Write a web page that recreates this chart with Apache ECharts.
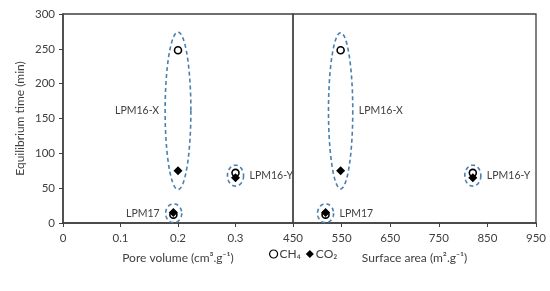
<!DOCTYPE html>
<html><head><meta charset="utf-8">
<script src="https://cdn.jsdelivr.net/npm/echarts@6/dist/echarts.min.js"></script>
<style>html,body{margin:0;padding:0;background:#fff}#c{width:550px;height:291px}</style>
</head><body><div id="c"></div>
<script>
// ---- data ----
const samples = ['LPM16-X', 'LPM16-Y', 'LPM17'];
const poreVolume = [0.2, 0.3, 0.192];        // cm3/g
const surfaceArea = [548, 820, 517];         // m2/g
const ch4Time = [248, 72, 12];               // min
const co2Time = [75, 65, 15];                // min
const yTicks = [0, 50, 100, 150, 200, 250, 300];
const poreTicks = [0, 0.1, 0.2, 0.3];
const areaTicks = [450, 550, 650, 750, 850, 950];
// grouping ellipses: [centerX, centerY, halfWidth, halfHeight] in data units
const poreGroups = [[0.2, 161, 0.0224, 113], [0.3, 68, 0.014, 15], [0.1925, 14, 0.014, 13.5]];
const areaGroups = [[548, 161, 25, 112], [820, 68, 16.5, 15], [517, 14, 16.5, 13.5]];
const poreLabelSide = ['left', 'right', 'left'];
const areaLabelSide = ['right', 'right', 'right'];

const TXT = '#404040', AX = '#404040', ELL = '#4a7fae';
const FONT = 'Lato';

function groupData(groups, sides) {
  return groups.map((g, i) => ({ value: [g[0], g[1], g[2], g[3]], name: samples[i], side: sides[i] }));
}
function renderEllipse(params, api) {
  const c = api.coord([api.value(0), api.value(1)]);
  const s = api.size([api.value(2), api.value(3)]);
  const rx = s[0], ry = s[1];
  const pts = [];
  for (let k = 0; k < 96; k++) {
    const t = k / 96 * Math.PI * 2;
    pts.push([c[0] + rx * Math.cos(t), c[1] + ry * Math.sin(t)]);
  }
  const d = params.dataIndex;
  const src = params.seriesIndex === 2 ? poreData : areaData;
  const side = src[d].side;
  const name = src[d].name;
  return {
    type: 'group',
    children: [
      { type: 'polygon', shape: { points: pts },
        style: { fill: 'none', stroke: ELL, lineWidth: 1.6, lineDash: [4, 3] } },
      { type: 'text',
        style: { text: name, x: side === 'left' ? c[0] - rx - 6 : c[0] + rx + 6, y: c[1],
          align: side === 'left' ? 'right' : 'left', verticalAlign: 'middle',
          fill: TXT, fontSize: 10.5, fontFamily: FONT } }
    ]
  };
}
const poreData = groupData(poreGroups, poreLabelSide);
const areaData = groupData(areaGroups, areaLabelSide);

const axisLabel = { color: TXT, fontSize: 11.5, fontFamily: FONT };
const chart = echarts.init(document.getElementById('c'), null, { renderer: 'canvas' });
chart.setOption({
  animation: false,
  backgroundColor: '#fff',
  textStyle: { fontFamily: FONT },
  grid: [
    { left: 63, top: 14, width: 230, height: 209, show: true, borderColor: AX, borderWidth: 1.3 },
    { left: 293, top: 14, width: 243, height: 209, show: true, borderColor: AX, borderWidth: 1.3 }
  ],
  legend: {
    left: 264, top: 243, itemWidth: 8, itemHeight: 8, itemGap: 5,
    textStyle: { color: TXT, fontSize: 12, fontFamily: FONT, padding: [0, 0, 0, -3] },
    data: [
      { name: 'CH₄', icon: 'circle', itemStyle: { color: '#fff', borderColor: '#000', borderWidth: 1.2 } },
      { name: 'CO₂', icon: 'diamond' }
    ]
  },
  xAxis: [
    { gridIndex: 0, type: 'value', min: poreTicks[0], max: 0.4, interval: 0.1,
      name: 'Pore volume (cm³.g⁻¹)', nameLocation: 'middle', nameGap: 29,
      nameTextStyle: { color: TXT, fontSize: 12, fontFamily: FONT },
      axisLine: { lineStyle: { color: AX, width: 1.5 } },
      axisTick: { lineStyle: { color: AX }, length: 4 },
      splitLine: { show: false },
      axisLabel: Object.assign({}, axisLabel, { margin: 9,
        formatter: v => poreTicks.some(t => Math.abs(t - v) < 1e-9) ? String(+v.toFixed(1)) : '' }) },
    { gridIndex: 1, type: 'value', min: areaTicks[0], max: areaTicks[areaTicks.length - 1], interval: 100,
      name: 'Surface area (m².g⁻¹)', nameLocation: 'middle', nameGap: 29,
      nameTextStyle: { color: TXT, fontSize: 12, fontFamily: FONT },
      axisLine: { lineStyle: { color: AX, width: 1.5 } },
      axisTick: { lineStyle: { color: AX }, length: 4 },
      splitLine: { show: false },
      axisLabel: Object.assign({}, axisLabel, { margin: 9 }) }
  ],
  yAxis: [
    { gridIndex: 0, type: 'value', min: yTicks[0], max: yTicks[yTicks.length - 1], interval: 50,
      name: 'Equilibrium time (min)', nameLocation: 'middle', nameGap: 37,
      nameTextStyle: { color: TXT, fontSize: 12, fontFamily: FONT },
      axisLine: { show: true, lineStyle: { color: AX, width: 1.5 } },
      axisTick: { show: true, lineStyle: { color: AX }, length: 4 },
      splitLine: { show: false },
      axisLabel: Object.assign({}, axisLabel, { margin: 8 }) },
    { gridIndex: 1, type: 'value', min: yTicks[0], max: yTicks[yTicks.length - 1], interval: 50,
      axisLine: { show: false },
      axisTick: { show: false }, axisLabel: { show: false }, splitLine: { show: false } }
  ],
  series: [
    { name: 'CH₄', type: 'scatter', xAxisIndex: 0, yAxisIndex: 0, symbol: 'circle', symbolSize: 7,
      itemStyle: { color: '#fff', borderColor: '#000', borderWidth: 1.6, opacity: 1 },
      data: poreVolume.map((x, i) => [x, ch4Time[i]]), z: 3 },
    { name: 'CO₂', type: 'scatter', xAxisIndex: 0, yAxisIndex: 0, symbol: 'diamond', symbolSize: 9,
      itemStyle: { color: '#000', opacity: 1 },
      data: poreVolume.map((x, i) => [x, co2Time[i]]), z: 4 },
    { type: 'custom', xAxisIndex: 0, yAxisIndex: 0, renderItem: renderEllipse, data: poreData, z: 2, silent: true },
    { type: 'custom', xAxisIndex: 1, yAxisIndex: 1, renderItem: renderEllipse, data: areaData, z: 2, silent: true },
    { name: 'CH₄', type: 'scatter', xAxisIndex: 1, yAxisIndex: 1, symbol: 'circle', symbolSize: 7,
      itemStyle: { color: '#fff', borderColor: '#000', borderWidth: 1.6, opacity: 1 },
      data: surfaceArea.map((x, i) => [x, ch4Time[i]]), z: 3 },
    { name: 'CO₂', type: 'scatter', xAxisIndex: 1, yAxisIndex: 1, symbol: 'diamond', symbolSize: 9,
      itemStyle: { color: '#000', opacity: 1 },
      data: surfaceArea.map((x, i) => [x, co2Time[i]]), z: 4 }
  ]
});
</script>
</body></html>
